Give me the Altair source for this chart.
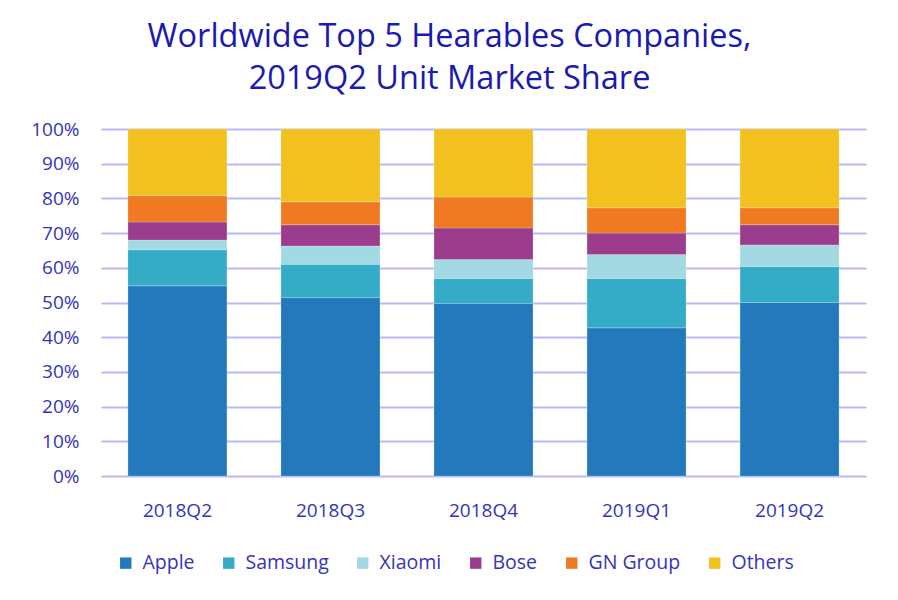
import altair as alt
import pandas as pd

quarters = ["2018Q2", "2018Q3", "2018Q4", "2019Q1", "2019Q2"]
companies = ["Apple", "Samsung", "Xiaomi", "Bose", "GN Group", "Others"]
colors = ["#2479BC", "#35ACC7", "#A2D9E3", "#9B3D8C", "#F07A22", "#F2C01F"]

apple = [54.8, 51.4, 49.7, 42.7, 50.0]
samsung = [10.4, 9.6, 7.2, 14.2, 10.4]
xiaomi = [2.8, 5.3, 5.5, 6.9, 6.2]
bose = [5.2, 6.1, 9.1, 6.2, 5.8]
gn_group = [7.6, 6.6, 8.9, 7.3, 4.9]
others = [19.2, 21.0, 19.6, 22.7, 22.7]

series = [apple, samsung, xiaomi, bose, gn_group, others]
rows = []
for ci, (name, vals) in enumerate(zip(companies, series)):
    for q, v in zip(quarters, vals):
        rows.append({"quarter": q, "company": name, "share": v, "idx": ci})
df = pd.DataFrame(rows)

FONT = "Open Sans"
TXT = "#3434b8"

chart = (
    alt.Chart(df)
    .mark_bar(stroke="#ffffff", strokeWidth=0.4, strokeOpacity=0.5)
    .encode(
        x=alt.X(
            "quarter:N",
            sort=quarters,
            title=None,
            scale=alt.Scale(paddingInner=0.353, paddingOuter=0.176),
            axis=alt.Axis(labelAngle=0, ticks=False, domain=False, labelPadding=25,
                          labelFontSize=19, labelColor=TXT, labelFont=FONT),
        ),
        y=alt.Y(
            "share:Q",
            stack="zero",
            title=None,
            scale=alt.Scale(domain=[0, 100], nice=False),
            axis=alt.Axis(values=list(range(0, 101, 10)), labelExpr="datum.value + '%'",
                          ticks=False, domain=False, labelPadding=22,
                          labelFontSize=19, labelColor=TXT, labelFont=FONT,
                          gridColor="#b9b9f7", gridWidth=2),
        ),
        color=alt.Color(
            "company:N",
            sort=companies,
            scale=alt.Scale(domain=companies, range=colors),
            legend=alt.Legend(orient="none", legendX=15, legendY=424,
                              direction="horizontal", title=None,
                              symbolType="square", symbolSize=130, symbolStrokeWidth=0,
                              labelFontSize=19.5, labelColor=TXT, labelFont=FONT,
                              columnPadding=24, labelOffset=7),
        ),
        order=alt.Order("idx:Q", sort="ascending"),
    )
    .properties(
        width=765,
        height=347,
        title=alt.TitleParams(
            text=["Worldwide Top 5 Hearables Companies,", "2019Q2 Unit Market Share"],
            fontSize=32.5,
            font=FONT,
            fontWeight="normal",
            color="#1a1ab0",
            anchor="middle",
            dx=-34,
            offset=25,
            lineHeight=42,
        ),
        autosize=alt.AutoSizeParams(type="none"),
        padding={"left": 93, "top": 121, "right": 24, "bottom": 116},
    )
    .configure_view(stroke=None)
    .configure_axis(gridOpacity=1)
)

chart.save("out.html", embed_options={"renderer": "svg", "actions": False})
